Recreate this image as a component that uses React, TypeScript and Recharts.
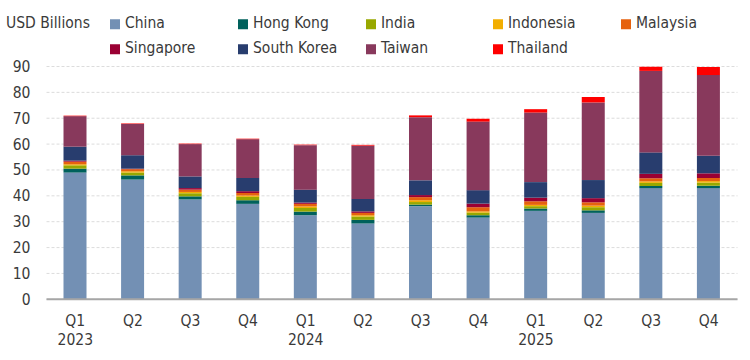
import React from "react";
import { BarChart, Bar, XAxis, YAxis, CartesianGrid } from "recharts";

const quarters = ["Q1", "Q2", "Q3", "Q4", "Q1", "Q2", "Q3", "Q4", "Q1", "Q2", "Q3", "Q4"];
const yearLabels = ["2023", "", "", "", "2024", "", "", "", "2025", "", "", ""];

const china = [49.0, 46.3, 38.6, 36.9, 32.5, 29.3, 36.0, 31.6, 34.2, 33.4, 43.0, 43.0];
const hongKong = [1.5, 1.6, 1.2, 1.4, 1.4, 1.4, 0.6, 0.9, 0.9, 1.0, 0.8, 0.9];
const india = [1.3, 1.1, 1.2, 1.3, 1.4, 1.3, 1.0, 1.0, 0.9, 1.2, 1.2, 1.2];
const indonesia = [0.4, 0.5, 0.5, 0.5, 0.6, 0.5, 0.7, 0.5, 0.5, 0.6, 0.6, 0.6];
const malaysia = [1.0, 0.8, 0.9, 1.0, 1.0, 0.9, 1.2, 1.6, 1.4, 1.3, 1.2, 1.2];
const singapore = [0.4, 0.2, 0.6, 0.7, 0.5, 0.6, 0.8, 1.4, 1.4, 1.6, 1.7, 1.8];
const southKorea = [5.4, 5.2, 4.5, 5.1, 5.0, 4.8, 5.7, 5.2, 6.0, 7.0, 8.3, 6.8];
const taiwan = [11.8, 12.1, 12.5, 15.0, 17.2, 20.6, 24.4, 26.5, 26.9, 30.0, 31.5, 31.2];
const thailand = [0.2, 0.2, 0.2, 0.2, 0.2, 0.3, 0.7, 1.1, 1.3, 2.1, 1.6, 3.1];

const yTicks = [0, 10, 20, 30, 40, 50, 60, 70, 80, 90];

const series = [
  { key: "China", values: china, color: "#7390b4" },
  { key: "Hong Kong", values: hongKong, color: "#00615c" },
  { key: "India", values: india, color: "#98a800" },
  { key: "Indonesia", values: indonesia, color: "#f2ae00" },
  { key: "Malaysia", values: malaysia, color: "#e6620e" },
  { key: "Singapore", values: singapore, color: "#9a0033" },
  { key: "South Korea", values: southKorea, color: "#283d6e" },
  { key: "Taiwan", values: taiwan, color: "#88395c" },
  { key: "Thailand", values: thailand, color: "#ff0000" },
];

const data = quarters.map((q, i) => {
  const row: Record<string, any> = { name: q + "-" + i, q, year: yearLabels[i] };
  series.forEach((s) => {
    row[s.key] = s.values[i];
  });
  return row;
});

const FONT = "'DejaVu Sans Condensed', 'Liberation Sans', sans-serif";
const FS = 15.5;
const TEXT = "#3a3a3a";

const XTick = (props: any) => {
  const { x, y, index } = props;
  return (
    <g transform={`translate(${x},${y})`}>
      <text textAnchor="middle" fill={TEXT} fontSize={FS} fontFamily={FONT}>
        <tspan x={0} dy={27}>{quarters[index]}</tspan>
        {yearLabels[index] ? (
          <tspan x={0} dy={18.5}>{yearLabels[index]}</tspan>
        ) : null}
      </text>
    </g>
  );
};

const legendCols = [110, 238, 366, 493, 621];
const legendRows = [24, 49];

export default function App() {
  return (
    <div style={{ position: "absolute", left: 0, top: 0, width: 750, height: 360, background: "#fff", fontFamily: FONT }}>
      <BarChart
        width={750}
        height={360}
        data={data}
        margin={{ top: 66.5, right: 12.5, left: 0, bottom: 0 }}
        barSize={23}
      >
        <CartesianGrid vertical={false} stroke="#dcdcdc" strokeDasharray="3 2" />
        <XAxis
          dataKey="name"
          height={60.7}
          axisLine={{ stroke: "#a6a6a6", strokeWidth: 2 }}
          tickLine={false}
          tickSize={0}
          tickMargin={0}
          interval={0}
          tick={<XTick />}
        />
        <YAxis
          width={46.5}
          domain={[0, 90]}
          ticks={yTicks}
          axisLine={false}
          tickLine={false}
          tickSize={0}
          tickMargin={16}
          tick={{ fill: TEXT, fontSize: FS, fontFamily: FONT }}
        />
        {series.map((s) => (
          <Bar key={s.key} dataKey={s.key} stackId="a" fill={s.color} isAnimationActive={false} />
        ))}
      </BarChart>
      <div style={{ position: "absolute", left: 6, top: legendRows[0], transform: "translateY(-50%)", fontSize: FS, color: TEXT, whiteSpace: "nowrap", lineHeight: 1 }}>
        USD Billions
      </div>
      {series.map((s, i) => {
        const col = legendCols[i % 5];
        const row = legendRows[Math.floor(i / 5)];
        return (
          <div
            key={s.key}
            style={{ position: "absolute", left: col, top: row, transform: "translateY(-50%)", display: "flex", alignItems: "center", whiteSpace: "nowrap", lineHeight: 1 }}
          >
            <span style={{ display: "inline-block", width: 10, height: 10, background: s.color, marginRight: 5 }} />
            <span style={{ fontSize: FS, color: TEXT }}>{s.key}</span>
          </div>
        );
      })}
    </div>
  );
}
